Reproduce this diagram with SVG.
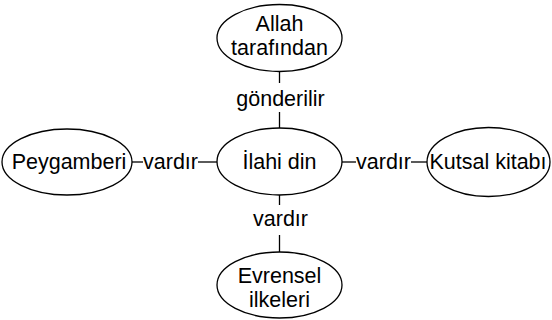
<svg xmlns="http://www.w3.org/2000/svg" width="552" height="320" viewBox="0 0 552 320">
<style>
.n{fill:#fff;stroke:#000;stroke-width:1.3}
.t{font-family:"Liberation Sans",Arial,sans-serif;font-size:21.5px;fill:#000;text-anchor:middle}
.c{stroke:#000;stroke-width:1.3;fill:none}
</style>
<rect width="552" height="320" fill="#fff"/>
<g id="connectors">
<line class="c" x1="279.5" y1="71.5" x2="279.5" y2="83"/>
<line class="c" x1="279.5" y1="112" x2="279.5" y2="128"/>
<text class="t" x="280.5" y="106">gönderilir</text>
<line class="c" x1="279.5" y1="195" x2="279.5" y2="205"/>
<line class="c" x1="279.5" y1="235" x2="279.5" y2="252"/>
<text class="t" x="280.5" y="226">vardır</text>
<line class="c" x1="132" y1="162" x2="143" y2="162"/>
<line class="c" x1="198" y1="162" x2="217" y2="162"/>
<text class="t" x="170.5" y="169">vardır</text>
<line class="c" x1="342" y1="162" x2="356" y2="162"/>
<line class="c" x1="411" y1="162" x2="427" y2="162"/>
<text class="t" x="383.5" y="169">vardır</text>
</g>
<g id="allah">
<ellipse class="n" cx="279.5" cy="38" rx="62.5" ry="33.5"/>
<text class="t" x="279.5" y="31">Allah</text>
<text class="t" x="279.5" y="55">tarafından</text>
</g>
<g id="ilahi">
<ellipse class="n" cx="279.5" cy="161.5" rx="62.5" ry="33.5"/>
<text class="t" x="279.5" y="169">İlahi din</text>
</g>
<g id="peygamberi">
<ellipse class="n" cx="67" cy="162" rx="65" ry="33"/>
<text class="t" x="69" y="169">Peygamberi</text>
</g>
<g id="kutsal">
<ellipse class="n" cx="488.5" cy="162" rx="61.5" ry="34.5"/>
<text class="t" x="488" y="169">Kutsal kitabı</text>
</g>
<g id="evrensel">
<ellipse class="n" cx="279.5" cy="285" rx="62.5" ry="33"/>
<text class="t" x="279.5" y="283">Evrensel</text>
<text class="t" x="279.5" y="307">ilkeleri</text>
</g>
</svg>
